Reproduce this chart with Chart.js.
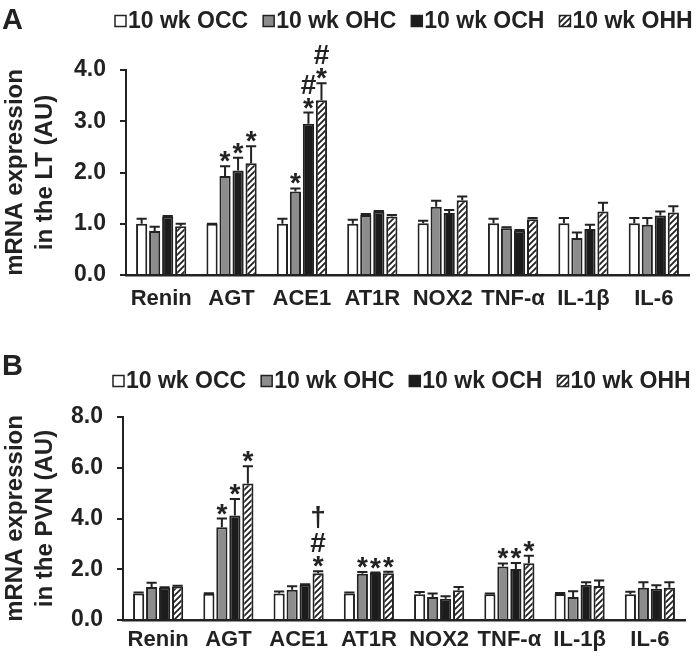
<!DOCTYPE html>
<html>
<head>
<meta charset="utf-8">
<script src="https://cdn.jsdelivr.net/npm/chart.js@4"></script>
<style>
  body { margin: 0; background: #fff; }
  canvas { display: block; }
</style>
</head>
<body>
<canvas id="chartLT" width="699" height="332"></canvas>
<canvas id="chartPVN" width="699" height="333"></canvas>
<script>
// genes on the x axis
const genes = ['Renin', 'AGT', 'ACE1', 'AT1R', 'NOX2', 'TNF-α', 'IL-1β', 'IL-6'];
const groups = ['10 wk OCC', '10 wk OHC', '10 wk OCH', '10 wk OHH'];

// panel A - lamina terminalis
const ltOCC = [1.00, 1.00, 1.00, 1.00, 1.01, 1.01, 1.01, 1.01];
const ltOHC = [0.86, 1.93, 1.63, 1.17, 1.33, 0.91, 0.72, 0.98];
const ltOCH = [1.14, 2.04, 2.95, 1.24, 1.21, 0.87, 0.90, 1.16];
const ltOHH = [0.95, 2.18, 3.41, 1.14, 1.46, 1.09, 1.24, 1.22];
const ltOCCErr = [0.10, 0.00, 0.10, 0.08, 0.05, 0.09, 0.10, 0.10];
const ltOHCErr = [0.08, 0.19, 0.06, 0.02, 0.12, 0.02, 0.11, 0.13];
const ltOCHErr = [0.01, 0.25, 0.22, 0.01, 0.06, 0.01, 0.08, 0.08];
const ltOHHErr = [0.05, 0.33, 0.33, 0.03, 0.07, 0.02, 0.17, 0.12];
const ltOHCMarks = ['', '*', '*', '', '', '', '', ''];
const ltOCHMarks = ['', '*', '*#', '', '', '', '', ''];
const ltOHHMarks = ['', '*', '*#', '', '', '', '', ''];
const ltTicks = [0, 1, 2, 3, 4];

// panel B - paraventricular nucleus
const pvnOCC = [1.04, 1.03, 1.04, 1.04, 1.01, 1.01, 1.02, 1.01];
const pvnOHC = [1.30, 3.66, 1.19, 1.82, 0.91, 2.11, 0.91, 1.27];
const pvnOCH = [1.27, 4.12, 1.39, 1.85, 0.84, 2.01, 1.39, 1.23];
const pvnOHH = [1.32, 5.38, 1.84, 1.84, 1.17, 2.24, 1.34, 1.27];
const pvnOCCErr = [0.04, 0.02, 0.08, 0.04, 0.09, 0.03, 0.04, 0.10];
const pvnOHCErr = [0.17, 0.34, 0.14, 0.07, 0.13, 0.12, 0.22, 0.22];
const pvnOCHErr = [0.02, 0.65, 0.02, 0.02, 0.10, 0.24, 0.10, 0.14];
const pvnOHHErr = [0.03, 0.68, 0.08, 0.06, 0.13, 0.29, 0.22, 0.22];
const pvnOHCMarks = ['', '*', '', '*', '', '*', '', ''];
const pvnOCHMarks = ['', '*', '', '*', '', '*', '', ''];
const pvnOHHMarks = ['', '*', '*#†', '*', '', '*', '', ''];
const pvnTicks = [0, 2, 4, 6, 8];

const INK = '#222';
const FONT = '"Liberation Sans", Arial, sans-serif';

function hatchPattern() {
    const c = document.createElement('canvas');
    c.width = c.height = 6;
    const g = c.getContext('2d');
    g.fillStyle = '#fff';
    g.fillRect(0, 0, 6, 6);
    g.strokeStyle = INK;
    g.lineWidth = 1.8;
    g.beginPath();
    g.moveTo(-1, 7); g.lineTo(7, -1);
    g.moveTo(-1, 1); g.lineTo(1, -1);
    g.moveTo(5, 7); g.lineTo(7, 5);
    g.stroke();
    return g.createPattern(c, 'repeat');
}
const fills = ['#ffffff', '#8c8c8c', '#1c1c1c', hatchPattern()];

// upper error whiskers + significance symbols stacked above them
const errorBars = {
    id: 'errorBars',
    afterDatasetsDraw(chart) {
        const ctx = chart.ctx, yScale = chart.scales.y;
        ctx.save();
        chart.data.datasets.forEach((ds, di) => {
            chart.getDatasetMeta(di).data.forEach((bar, i) => {
                const top = yScale.getPixelForValue(ds.data[i] + ds.errors[i]);
                const half = bar.width / 2 - 0.5;
                ctx.strokeStyle = INK;
                ctx.lineWidth = 2;
                ctx.beginPath();
                ctx.moveTo(bar.x, bar.y);
                ctx.lineTo(bar.x, top);
                ctx.moveTo(bar.x - half, top);
                ctx.lineTo(bar.x + half, top);
                ctx.stroke();
                let bottom = top - 4;
                ctx.fillStyle = INK;
                ctx.font = 'bold 28px ' + FONT;
                ctx.textAlign = 'center';
                ctx.textBaseline = 'alphabetic';
                for (const ch of ds.marks[i]) {
                    const m = ctx.measureText(ch);
                    ctx.fillText(ch, bar.x, bottom - m.actualBoundingBoxDescent);
                    bottom -= m.actualBoundingBoxAscent + m.actualBoundingBoxDescent + 4;
                }
            });
        });
        ctx.restore();
    }
};

// panel letter and the legend row
const panelDecor = {
    id: 'panelDecor',
    afterDraw(chart, args, opts) {
        const ctx = chart.ctx;
        ctx.save();
        ctx.fillStyle = INK;
        ctx.textAlign = 'left';
        ctx.textBaseline = 'alphabetic';
        ctx.font = 'bold 29px ' + FONT;
        ctx.fillText(opts.letter, 2, opts.letterY);
        ctx.font = 'bold 23px ' + FONT;
        ctx.textBaseline = 'middle';
        let x = opts.legendX;
        const y = opts.legendY;
        chart.data.datasets.forEach(ds => {
            ctx.fillStyle = ds.backgroundColor;
            ctx.fillRect(x, y - 5.5, 11, 11);
            ctx.strokeStyle = INK;
            ctx.lineWidth = 1.5;
            ctx.strokeRect(x, y - 5.5, 11, 11);
            ctx.fillStyle = INK;
            ctx.fillText(ds.label, x + 13, y + 1);
            x += 13 + ctx.measureText(ds.label).width + 15;
        });
        ctx.restore();
    }
};

function makePanel(id, cfg) {
    const series = [cfg.occ, cfg.ohc, cfg.och, cfg.ohh];
    return new Chart(document.getElementById(id), {
        type: 'bar',
        data: {
            labels: genes,
            datasets: groups.map((g, k) => ({
                label: g,
                data: series[k],
                errors: cfg.errs[k],
                marks: cfg.marks[k],
                backgroundColor: fills[k],
                borderColor: INK,
                borderWidth: 2,
                categoryPercentage: 0.74,
                barPercentage: 0.86,
            })),
        },
        options: {
            responsive: false, animation: false,
            layout: { padding: { top: cfg.top, right: cfg.right, left: 0, bottom: 0 } },
            plugins: {
                legend: { display: false }, tooltip: { enabled: false },
                panelDecor: { letter: cfg.letter, letterY: cfg.letterY, legendX: cfg.legendX, legendY: cfg.legendY },
            },
            scales: {
                x: {
                    grid: { display: false, drawTicks: false },
                    border: { display: true, color: INK, width: 2.5 },
                    ticks: { color: INK, font: { family: FONT, size: 22, weight: 'bold' }, padding: cfg.xPad },
                    afterFit: s => { s.height = cfg.xHeight; },
                },
                y: {
                    min: 0, max: cfg.ticks[cfg.ticks.length - 1],
                    afterBuildTicks: s => { s.ticks = cfg.ticks.map(v => ({ value: v })); },
                    grid: { drawOnChartArea: false, drawTicks: true, tickLength: 6, color: INK, lineWidth: 2 },
                    border: { display: true, color: INK, width: 2 },
                    ticks: { color: INK, font: { family: FONT, size: 23, weight: 'bold' }, padding: 14, callback: v => v.toFixed(1) },
                    title: {
                        display: true, text: cfg.title, color: INK, padding: 0,
                        font: { family: FONT, size: 24, weight: 'bold', lineHeight: 1.25 },
                    },
                    afterFit: s => { s.width = cfg.left; },
                },
            },
        },
        plugins: [errorBars, panelDecor],
    });
}

makePanel('chartLT', {
    occ: ltOCC, ohc: ltOHC, och: ltOCH, ohh: ltOHH,
    errs: [ltOCCErr, ltOHCErr, ltOCHErr, ltOHHErr],
    marks: [['', '', '', '', '', '', '', ''], ltOHCMarks, ltOCHMarks, ltOHHMarks],
    ticks: ltTicks, title: ['mRNA expression', 'in the LT (AU)'],
    letter: 'A', letterY: 29, legendX: 115, legendY: 21,
    top: 70, right: 10, left: 126, xHeight: 57, xPad: 11,
});

makePanel('chartPVN', {
    occ: pvnOCC, ohc: pvnOHC, och: pvnOCH, ohh: pvnOHH,
    errs: [pvnOCCErr, pvnOHCErr, pvnOCHErr, pvnOHHErr],
    marks: [['', '', '', '', '', '', '', ''], pvnOHCMarks, pvnOCHMarks, pvnOHHMarks],
    ticks: pvnTicks, title: ['mRNA expression', 'in the PVN (AU)'],
    letter: 'B', letterY: 43, legendX: 113, legendY: 49,
    top: 85, right: 14, left: 123, xHeight: 45, xPad: 7,
});
</script>
</body>
</html>
